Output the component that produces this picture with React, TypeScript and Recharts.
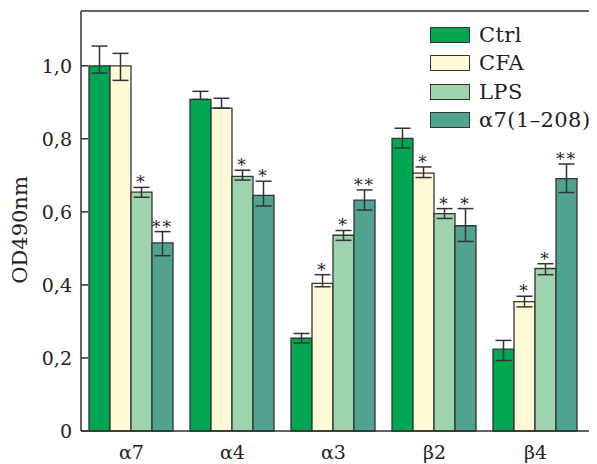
import React from 'react';
import { BarChart, Bar, XAxis, YAxis, ErrorBar, LabelList, Legend, ReferenceLine } from 'recharts';

const categories = ['α7', 'α4', 'α3', 'β2', 'β4'];
const seriesNames = ['Ctrl', 'CFA', 'LPS', 'α7(1–208)'];
const ctrl = [1.0, 0.908, 0.254, 0.801, 0.224];
const cfa = [1.0, 0.884, 0.404, 0.706, 0.354];
const lps = [0.654, 0.697, 0.536, 0.595, 0.445];
const a7 = [0.515, 0.645, 0.632, 0.562, 0.691];
// error bars as [below, above]
const ctrlErr = [[0.02, 0.054], [0, 0.022], [0.013, 0.013], [0.026, 0.028], [0.031, 0.024]];
const cfaErr = [[0.04, 0.034], [0, 0.027], [0.009, 0.024], [0.012, 0.017], [0.014, 0.015]];
const lpsErr = [[0.014, 0.013], [0.01, 0.017], [0.014, 0.013], [0.013, 0.014], [0.017, 0.013]];
const a7Err = [[0.035, 0.031], [0.029, 0.039], [0.027, 0.028], [0.043, 0.047], [0.038, 0.04]];
const ctrlSig = ['', '', '', '', ''];
const cfaSig = ['', '', '*', '*', '*'];
const lpsSig = ['*', '*', '*', '*', '*'];
const a7Sig = ['**', '*', '**', '*', '**'];
const yTicks = [0, 0.2, 0.4, 0.6, 0.8, 1.0];

const FONT = '"DejaVu Serif", serif';
const INK = '#333333';
const TXT = '#222222';
const colors = ['#00a651', '#fffad6', '#9dd4ae', '#50a38f'];
const keys = ['ctrl', 'cfa', 'lps', 'a7'];

const data = categories.map((c, i) => ({
  cat: c,
  ctrl: ctrl[i], cfa: cfa[i], lps: lps[i], a7: a7[i],
  ctrlErr: ctrlErr[i], cfaErr: cfaErr[i], lpsErr: lpsErr[i], a7Err: a7Err[i],
  ctrlSig: ctrlSig[i], cfaSig: cfaSig[i], lpsSig: lpsSig[i], a7Sig: a7Sig[i],
}));

const valsByKey: Record<string, number[]> = { ctrl, cfa, lps, a7 };
const errsByKey: Record<string, number[][]> = { ctrl: ctrlErr, cfa: cfaErr, lps: lpsErr, a7: a7Err };

const makeStar = (key: string) => (props: any) => {
  const { value, index } = props;
  if (!value) return null;
  const vb = props.viewBox || {};
  const x = props.x ?? vb.x;
  const y = props.y ?? vb.y;
  const width = props.width ?? vb.width;
  const height = props.height ?? vb.height;
  const v = valsByKey[key][index];
  const up = errsByKey[key][index][1];
  const ppu = Math.abs(height) / v;
  const top = y - up * ppu;
  return (
    <text x={x + width / 2} y={top + 1} textAnchor="middle" fontFamily={FONT} fontSize={17} fill={TXT} stroke="none" letterSpacing={2}>
      {value}
    </text>
  );
};

const renderLegend = () => (
  <div style={{ display: 'flex', flexDirection: 'column' }}>
    {seriesNames.map((name, i) => (
      <div key={name} style={{ height: 28.3, display: 'flex', alignItems: 'center' }}>
        <div style={{ width: 38, height: 14, background: colors[i], border: `1.5px solid ${INK}`, marginRight: 9 }} />
        <span style={{ fontFamily: FONT, fontSize: 21, letterSpacing: 0.4, color: TXT, lineHeight: '28px', whiteSpace: 'nowrap' }}>{name}</span>
      </div>
    ))}
  </div>
);

const fmt = (v: number) => (v === 0 ? '0' : v.toFixed(1).replace('.', ','));

export default function App() {
  return (
    <BarChart
      width={589}
      height={456}
      data={data}
      margin={{ top: 3, right: 0, bottom: 0, left: 0 }}
      barGap={0}
      barCategoryGap={8}
    >
      <XAxis
        dataKey="cat"
        height={33}
        padding={{ left: 0, right: 11 }}
        tickLine={false}
        tickSize={0}
        tickMargin={15}
        axisLine={{ stroke: INK, strokeWidth: 1.5 }}
        tick={{ fontFamily: FONT, fontSize: 19, fill: TXT }}
      />
      <YAxis
        width={73}
        domain={[0, 1.15]}
        ticks={yTicks}
        tickFormatter={fmt}
        tickSize={-7}
        tickMargin={16}
        tickLine={{ stroke: INK, strokeWidth: 1.5 }}
        axisLine={{ stroke: INK, strokeWidth: 1.5 }}
        tick={{ fontFamily: FONT, fontSize: 19, fill: TXT }}
        label={{
          position: 'insideLeft',
          content: () => (
            <text x={12} y={222} transform="rotate(-90 12 222)" textAnchor="middle" dominantBaseline="central" fontFamily={FONT} fontSize={21} fill={TXT}>
              OD490nm
            </text>
          ),
        }}
      />
      <ReferenceLine y={1.15} stroke={INK} strokeWidth={1.5} ifOverflow="visible" />
      <Legend
        layout="vertical"
        align="center"
        verticalAlign="middle"
        content={renderLegend}
        wrapperStyle={{ top: 13, left: 422, width: 'auto', height: 'auto' }}
      />
      {keys.map((k, i) => (
        <Bar key={k} dataKey={k} name={seriesNames[i]} fill={colors[i]} stroke={INK} strokeWidth={1.3} isAnimationActive={false}>
          <ErrorBar dataKey={`${k}Err`} width={8} stroke={INK} strokeWidth={1.5} direction="y" />
          <LabelList dataKey={`${k}Sig`} content={makeStar(k)} />
        </Bar>
      ))}
    </BarChart>
  );
}
